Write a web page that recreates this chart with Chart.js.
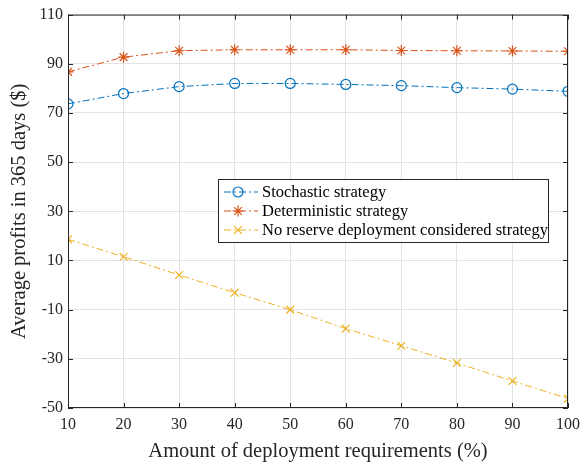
<!DOCTYPE html>
<html><head><meta charset="utf-8">
<script src="https://cdn.jsdelivr.net/npm/chart.js@4/dist/chart.umd.min.js"></script>
<style>html,body{margin:0;padding:0;background:#fff}#wrap{width:587px;height:467px}</style>
</head><body><div id="wrap"><canvas id="c" width="587" height="467"></canvas></div>
<script>
const categories = [10,20,30,40,50,60,70,80,90,100];
const stochastic = [73.7,77.9,80.7,82.0,82.0,81.6,81.1,80.3,79.7,78.8];
const deterministic = [86.7,92.7,95.3,95.7,95.7,95.7,95.4,95.3,95.2,95.1];
const noReserve = [18.6,11.5,4.1,-3.1,-10.0,-17.7,-24.7,-31.7,-39.0,-46.2];
const yTicks = [-50,-30,-10,10,30,50,70,90,110];
const xTicks = [10,20,30,40,50,60,70,80,90,100];
const labels = ['Stochastic strategy','Deterministic strategy','No reserve deployment considered strategy'];
const FONT = '"Liberation Serif","Times New Roman",serif';
const dash = [7,3,2,3];

function mk(vals){ return categories.map((x,i)=>({x:x,y:vals[i]})); }

const boxPlugin = {
  id:'box',
  afterDraw(chart){
    const {ctx, chartArea:a, scales:{x,y}} = chart;
    ctx.save();
    ctx.strokeStyle='#262626'; ctx.lineWidth=1;
    ctx.strokeRect(a.left+0.5,a.top+0.5,a.right-a.left-1,a.bottom-a.top-1);
    const t=5;
    ctx.beginPath();
    xTicks.forEach(v=>{const p=Math.round(x.getPixelForValue(v))+0.5;
      ctx.moveTo(p,a.bottom);ctx.lineTo(p,a.bottom-t);ctx.moveTo(p,a.top);ctx.lineTo(p,a.top+t);});
    yTicks.forEach(v=>{const p=Math.round(y.getPixelForValue(v))+0.5;
      ctx.moveTo(a.left,p);ctx.lineTo(a.left+t,p);ctx.moveTo(a.right,p);ctx.lineTo(a.right-t,p);});
    ctx.stroke();
    // legend
    const lx=218, ly=179, lw=330, lh=63;
    ctx.fillStyle='#fff'; ctx.fillRect(lx,ly,lw,lh);
    ctx.strokeStyle='#262626'; ctx.strokeRect(lx+0.5,ly+0.5,lw,lh);
    ctx.font='16.5px '+FONT; ctx.textBaseline='middle';
    chart.data.datasets.forEach((ds,i)=>{
      const cy=ly+13+i*19;
      ctx.strokeStyle=ds.borderColor; ctx.lineWidth=1; ctx.setLineDash(dash);
      ctx.beginPath(); ctx.moveTo(lx+6,cy); ctx.lineTo(lx+40,cy); ctx.stroke(); ctx.setLineDash([]);
      ctx.fillStyle='rgba(0,0,0,0)';
      ctx.lineWidth=1.2;
      Chart.helpers.drawPoint(ctx,{pointStyle:ds.pointStyle,radius:ds.pointRadius,borderWidth:1.2,rotation:0},lx+20,cy);
      ctx.fillStyle='#000';
      ctx.fillText(ds.label,lx+44,cy+1);
    });
    ctx.restore();
  }
};

new Chart(document.getElementById('c'),{
  type:'line',
  data:{datasets:[
    {label:labels[0],data:mk(stochastic),borderColor:'#0072BD',backgroundColor:'rgba(0,0,0,0)',pointStyle:'circle',pointRadius:5,pointBorderColor:'#0072BD',pointBackgroundColor:'rgba(0,0,0,0)',borderWidth:1,borderDash:dash,pointBorderWidth:1.2},
    {label:labels[1],data:mk(deterministic),borderColor:'#D95319',backgroundColor:'rgba(0,0,0,0)',pointStyle:'star',pointRadius:5.5,pointBorderColor:'#D95319',borderWidth:1,borderDash:dash,pointBorderWidth:1.2},
    {label:labels[2],data:mk(noReserve),borderColor:'#EDB120',backgroundColor:'rgba(0,0,0,0)',pointStyle:'crossRot',pointRadius:5.5,pointBorderColor:'#EDB120',borderWidth:1,borderDash:dash,pointBorderWidth:1.2}
  ]},
  options:{
    responsive:false,animation:false,
    layout:{padding:{top:12,right:14,left:0,bottom:0}},
    plugins:{legend:{display:false},tooltip:{enabled:false}},
    scales:{
      x:{type:'linear',min:10,max:100,
        afterBuildTicks(s){s.ticks=xTicks.map(v=>({value:v}));},
        afterFit(s){s.height=59;},
        grid:{color:'#e3e3e3',drawTicks:false},border:{display:false},
        ticks:{font:{family:FONT,size:16},color:'#262626',padding:7,maxRotation:0},
        title:{display:true,text:'Amount of deployment requirements (%)',font:{family:FONT,size:20.5},color:'#262626',padding:{top:0,bottom:3}}},
      y:{type:'linear',min:-50,max:110,
        afterBuildTicks(s){s.ticks=yTicks.map(v=>({value:v}));},
        afterFit(s){s.width=68;},
        grid:{color:'#e3e3e3',drawTicks:false},border:{display:false},
        ticks:{font:{family:FONT,size:16},color:'#262626',padding:5},
        title:{display:true,text:'Average profits in 365 days ($)',font:{family:FONT,size:20.5},color:'#262626',padding:{top:7,bottom:0}}}
    }
  },
  plugins:[boxPlugin]
});
</script></body></html>
